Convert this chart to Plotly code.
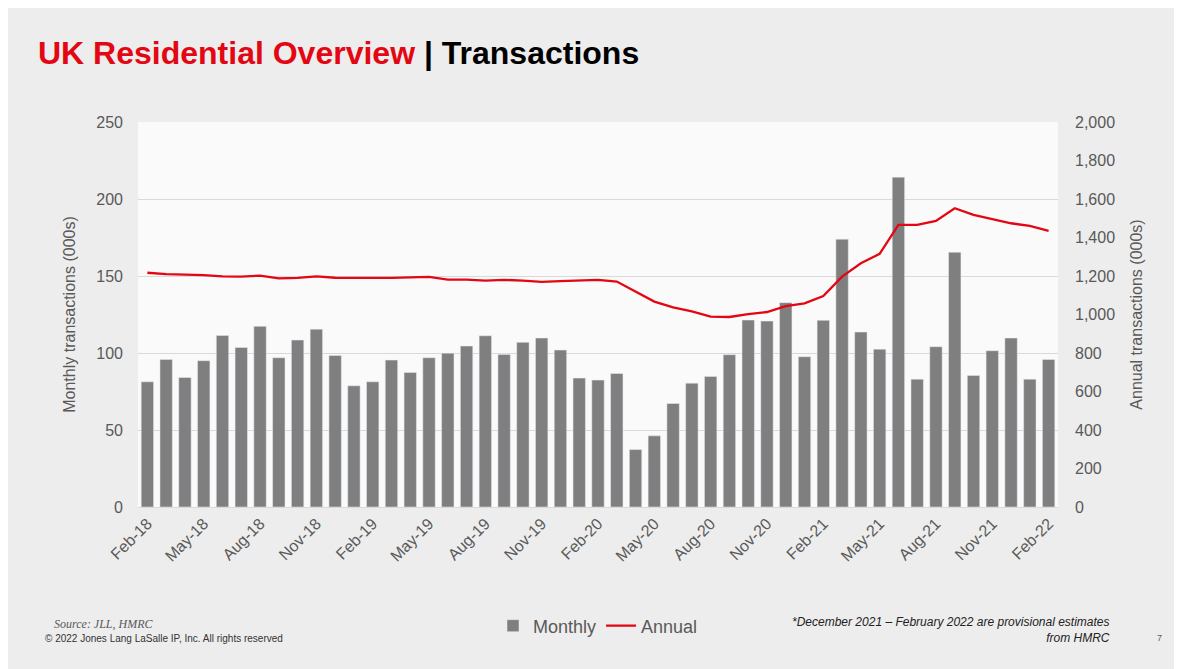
import plotly.graph_objects as go

# monthly transactions Feb-18 .. Feb-22 (000s)
months = [
    "Feb-18", "Mar-18", "Apr-18", "May-18", "Jun-18", "Jul-18", "Aug-18", "Sep-18", "Oct-18", "Nov-18", "Dec-18",
    "Jan-19", "Feb-19", "Mar-19", "Apr-19", "May-19", "Jun-19", "Jul-19", "Aug-19", "Sep-19", "Oct-19", "Nov-19", "Dec-19",
    "Jan-20", "Feb-20", "Mar-20", "Apr-20", "May-20", "Jun-20", "Jul-20", "Aug-20", "Sep-20", "Oct-20", "Nov-20", "Dec-20",
    "Jan-21", "Feb-21", "Mar-21", "Apr-21", "May-21", "Jun-21", "Jul-21", "Aug-21", "Sep-21", "Oct-21", "Nov-21", "Dec-21",
    "Jan-22", "Feb-22",
]
monthly = [
    81.3, 95.8, 84.1, 95.0, 111.4, 103.6, 117.3, 96.9, 108.4, 115.5, 98.4,
    78.7, 81.3, 95.4, 87.4, 96.9, 99.9, 104.5, 111.2, 99.1, 106.9, 109.7, 101.9,
    83.7, 82.4, 86.7, 37.3, 46.2, 67.2, 80.4, 84.8, 98.9, 121.4, 120.7, 132.7,
    97.6, 121.2, 173.9, 113.6, 102.5, 214.2, 83.0, 104.1, 165.4, 85.4, 101.5, 109.7,
    83.0, 95.8,
]
annual = [
    1217, 1210, 1207, 1205, 1198, 1197, 1202, 1188, 1190, 1198, 1191,
    1190, 1190, 1190, 1193, 1195, 1181, 1181, 1176, 1180, 1176, 1169, 1173,
    1178, 1180, 1171, 1119, 1067, 1037, 1016, 989, 987, 1002, 1013, 1044,
    1058, 1096, 1197, 1266, 1315, 1466, 1466, 1486, 1552, 1518, 1497, 1474,
    1460, 1434,
]
tick_labels = months[::3]

GREY = "#595959"
RED = "#E30613"
FONT = "Arial, Liberation Sans, sans-serif"

# page body adds an 8px margin, so the figure is 8px smaller than the window
W, H = 1174, 661
L, T = 130, 114
PW, PH = 920, 385


def px(x):
    return (x - 8 - L) / PW


def py(y):
    return (T + PH - (y - 8)) / PH


fig = go.Figure()
fig.add_trace(go.Bar(x=months, y=monthly, name="Monthly", marker_color="#7f7f7f"))
fig.add_trace(go.Scatter(x=months, y=annual, name="Annual", yaxis="y2", mode="lines",
                         line=dict(color=RED, width=2.3)))

fig.update_layout(
    width=W, height=H,
    margin=dict(l=L, r=W - L - PW, t=T, b=H - T - PH),
    paper_bgcolor="#ededed",
    plot_bgcolor="rgba(255,255,255,0.7)",
    font=dict(family=FONT, color=GREY, size=16),
    bargap=0.34,
    title=dict(
        text="<b><span style='color:%s'>UK Residential Overview</span> | Transactions</b>" % RED,
        x=(38 - 8) / W, xanchor="left", y=1 - (53 - 8) / H, yanchor="middle",
        font=dict(family=FONT, size=32, color="#000000"),
    ),
    xaxis=dict(type="category", tickvals=tick_labels, ticktext=tick_labels, tickangle=-45,
               showline=True, linecolor="#d9d9d9", ticks="", showgrid=False,
               tickfont=dict(size=16, color=GREY)),
    yaxis=dict(range=[0, 250], dtick=50, showgrid=True, gridcolor="#d9d9d9", zeroline=False,
               ticklabelstandoff=14,
               title=dict(text="Monthly transactions (000s)", font=dict(size=16, color=GREY), standoff=16),
               tickfont=dict(size=16, color=GREY)),
    yaxis2=dict(range=[0, 2000], dtick=200, tickformat=",", overlaying="y", side="right",
                showgrid=False, zeroline=False, ticklabelstandoff=16,
                title=dict(text="Annual transactions (000s)", font=dict(size=16, color=GREY), standoff=16),
                tickfont=dict(size=16, color=GREY)),
    legend=dict(orientation="h", x=0.5, xanchor="center", y=py(626), yanchor="middle",
                font=dict(size=18, color=GREY), bgcolor="rgba(0,0,0,0)", itemwidth=30),
)

fig.add_annotation(text="<i>Source: JLL, HMRC</i>", xref="paper", yref="paper",
                   x=px(52), y=py(624), xanchor="left", yanchor="middle",
                   showarrow=False, font=dict(family="Liberation Serif, Times New Roman, serif", size=12, color=GREY))
fig.add_annotation(text="© 2022 Jones Lang LaSalle IP, Inc. All rights reserved", xref="paper", yref="paper",
                   x=px(43), y=py(638), xanchor="left", yanchor="middle",
                   showarrow=False, font=dict(size=10, color="#333333"))
fig.add_annotation(text="<i>*December 2021 – February 2022 are provisional estimates<br>from HMRC</i>",
                   xref="paper", yref="paper", align="right",
                   x=px(1112), y=py(630), xanchor="right", yanchor="middle",
                   showarrow=False, font=dict(size=12, color="#222222"))
fig.add_annotation(text="7", xref="paper", yref="paper",
                   x=px(1155), y=py(638), xanchor="left", yanchor="middle",
                   showarrow=False, font=dict(size=9, color=GREY))

fig.write_html("out.html")
